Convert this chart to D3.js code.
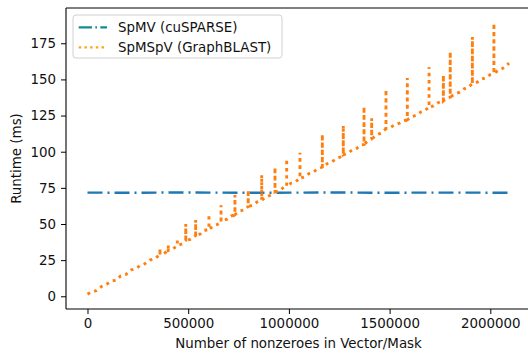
<!DOCTYPE html>
<html>
<head>
<meta charset="utf-8">
<script src="https://cdn.jsdelivr.net/npm/d3@7"></script>
<style>
  html, body { margin: 0; padding: 0; background: #fff; }
  svg { display: block; font-family: "DejaVu Sans", sans-serif; }
</style>
</head>
<body>
<svg id="chart" width="528" height="353"></svg>
<script>
// SpMSpV (GraphBLAST): steady-trend samples, nnz and runtime (ms)
const nnz = [
  0, 20000, 45000, 70000, 95000, 120000, 140000, 165000, 190000, 215000,
  240000, 262000, 285000, 310000, 335000, 360000, 380000, 401000, 425000, 446000,
  470000, 488000, 510000, 537000, 560000, 580000, 603000, 625000, 645000, 663000,
  690000, 712000, 732000, 755000, 778000, 798000, 820000, 843000, 865000, 888000,
  910000, 931000, 955000, 975000, 989000, 1010000, 1033000, 1055000, 1078000, 1100000,
  1122000, 1145000, 1166000, 1190000, 1212000, 1235000, 1255000, 1270000, 1292000, 1315000,
  1338000, 1360000, 1373000, 1392000, 1411000, 1435000, 1458000, 1482000, 1505000, 1528000,
  1550000, 1570000, 1588000, 1610000, 1632000, 1655000, 1675000, 1696000, 1718000, 1740000,
  1767000, 1785000, 1801000, 1825000, 1848000, 1870000, 1890000, 1911000, 1935000, 1958000,
  1980000, 2000000, 2018000, 2040000, 2060000, 2080000, 2093000
];
const spmspvTime = [
  1.5, 2.9, 4.0, 6.8, 8.4, 10.6, 11.0, 14.1, 15.0, 18.2,
  19.1, 21.3, 22.5, 25.0, 26.0, 28.9, 29.6, 31.7, 32.8, 35.0,
  36.3, 38.6, 39.4, 42.0, 43.1, 45.5, 46.3, 48.7, 49.7, 51.6,
  53.2, 55.5, 56.4, 58.9, 59.7, 62.1, 63.1, 65.3, 66.5, 68.7,
  70.0, 72.1, 73.2, 75.5, 75.9, 78.2, 79.2, 81.6, 82.6, 84.9,
  86.0, 88.3, 89.4, 91.7, 92.9, 95.1, 96.3, 97.8, 98.9, 101.3,
  102.4, 104.7, 105.0, 107.5, 108.9, 111.5, 113.0, 115.9, 116.9, 118.9,
  119.7, 121.5, 122.1, 124.2, 125.2, 127.5, 128.5, 130.7, 131.7, 133.9,
  135.1, 137.1, 137.7, 140.1, 141.2, 143.5, 144.6, 147.1, 148.1, 150.3,
  151.3, 153.3, 154.1, 156.4, 157.5, 159.6, 161.3
];

// occasional slow runs (vertical spikes)
const spikeNnz = [
  360000, 401000, 446000, 488000, 537000, 603000, 663000, 732000, 798000, 865000,
  931000, 989000, 1055000, 1166000, 1270000, 1373000, 1411000, 1482000, 1588000, 1696000,
  1767000, 1801000, 1911000, 2018000
];
const spikeTime = [
  33.2, 35.5, 40.0, 50.0, 52.8, 56.7, 63.0, 70.0, 73.5, 84.0,
  89.2, 95.0, 99.3, 112.0, 118.3, 131.2, 123.2, 143.0, 151.0, 158.4,
  153.0, 169.2, 179.4, 188.8
];

// SpMV (cuSPARSE): flat runtime
const spmvNnz = [0, 210000, 420000, 630000, 840000, 1050000, 1260000, 1470000, 1680000, 1890000, 2093000];
const spmvTime = [71.7, 71.6, 71.8, 71.7, 71.6, 71.7, 71.8, 71.6, 71.7, 71.7, 71.6];

const xTicks = [0, 500000, 1000000, 1500000, 2000000];
const yTicks = [0, 25, 50, 75, 100, 125, 150, 175];

const seriesNames = ['SpMV (cuSPARSE)', 'SpMSpV (GraphBLAST)'];
const lineColors = ['#1f77b4', '#ff7f0e'];
const legendColors = ['#138d8d', '#ffa514'];

const svg = d3.select('#chart');
const mLeft = 66, mRight = 531, mTop = 8, mBottom = 309;

const x = d3.scaleLinear().domain([-106750, 2202100]).range([mLeft, mRight]);
const y = d3.scaleLinear().domain([-8.8, 199.4]).range([mBottom, mTop]);

// build the spmspv path, spikes go straight up and back at the same nnz
const spikeAt = new Map(spikeNnz.map((n, i) => [n, spikeTime[i]]));
const spmspv = [];
nnz.forEach((n, i) => {
  spmspv.push([n, spmspvTime[i]]);
  if (spikeAt.has(n)) {
    spmspv.push([n, spikeAt.get(n)]);
    spmspv.push([n, spmspvTime[i]]);
  }
});
const spmv = spmvNnz.map((n, i) => [n, spmvTime[i]]);

svg.append('clipPath').attr('id', 'plot-clip')
  .append('rect')
  .attr('x', mLeft).attr('y', mTop)
  .attr('width', mRight - mLeft).attr('height', mBottom - mTop);

const line = d3.line().x(d => x(d[0])).y(d => y(d[1]));
const plot = svg.append('g').attr('clip-path', 'url(#plot-clip)');

plot.append('path')
  .attr('d', line(spmv))
  .attr('fill', 'none')
  .attr('stroke', lineColors[0])
  .attr('stroke-width', 2.4)
  .attr('stroke-dasharray', '15,5,2,5');

plot.append('path')
  .attr('d', line(spmspv))
  .attr('fill', 'none')
  .attr('stroke', lineColors[1])
  .attr('stroke-width', 2.9)
  .attr('stroke-dasharray', '2.9,4.3');

// axes
const xAxis = svg.append('g')
  .attr('transform', `translate(0,${mBottom})`)
  .call(d3.axisBottom(x).tickValues(xTicks).tickFormat(d3.format('d')).tickSize(5).tickPadding(4));
const yAxis = svg.append('g')
  .attr('transform', `translate(${mLeft},0)`)
  .call(d3.axisLeft(y).tickValues(yTicks).tickFormat(d3.format('d')).tickSize(5).tickPadding(5));

[xAxis, yAxis].forEach(g => {
  g.select('.domain').remove();
  g.selectAll('line').attr('stroke', '#000').attr('stroke-width', 1);
  g.selectAll('text')
    .attr('fill', '#111')
    .style('font-family', '"DejaVu Sans", sans-serif')
    .style('font-size', '13.4px');
});

// spines
const spines = svg.append('g').attr('stroke', '#000').attr('stroke-width', 1.1).attr('fill', 'none');
spines.append('line').attr('x1', mLeft).attr('x2', mLeft).attr('y1', mTop).attr('y2', mBottom);
spines.append('line').attr('x1', mLeft).attr('x2', mRight).attr('y1', mBottom).attr('y2', mBottom);
spines.append('line').attr('x1', mLeft).attr('x2', mRight).attr('y1', mTop).attr('y2', mTop);
spines.append('line').attr('x1', mRight).attr('x2', mRight).attr('y1', mTop).attr('y2', mBottom);

svg.append('text')
  .attr('x', (mLeft + mRight) / 2).attr('y', 348)
  .attr('text-anchor', 'middle')
  .attr('fill', '#111')
  .style('font-size', '13.4px')
  .text('Number of nonzeroes in Vector/Mask');

svg.append('text')
  .attr('transform', `translate(21,${(mTop + mBottom) / 2}) rotate(-90)`)
  .attr('text-anchor', 'middle')
  .attr('fill', '#111')
  .style('font-size', '13.4px')
  .text('Runtime (ms)');

// legend
const legend = svg.append('g');
legend.append('rect')
  .attr('x', 73).attr('y', 15)
  .attr('width', 209).attr('height', 43)
  .attr('rx', 3)
  .attr('fill', '#fff').attr('fill-opacity', 0.8)
  .attr('stroke', '#d0d0d0').attr('stroke-width', 1);

const legendDash = ['13.3,3.3,1.7,3.3', '2.5,3.2'];
seriesNames.forEach((name, i) => {
  const cy = 27.3 + i * 20;
  legend.append('line')
    .attr('x1', 78.7).attr('x2', 107).attr('y1', cy).attr('y2', cy)
    .attr('stroke', legendColors[i])
    .attr('stroke-width', 2.2)
    .attr('stroke-dasharray', legendDash[i]);
  legend.append('text')
    .attr('x', 118).attr('y', cy + 4.9)
    .attr('fill', '#111')
    .style('font-size', '13.4px')
    .text(name);
});
</script>
</body>
</html>
